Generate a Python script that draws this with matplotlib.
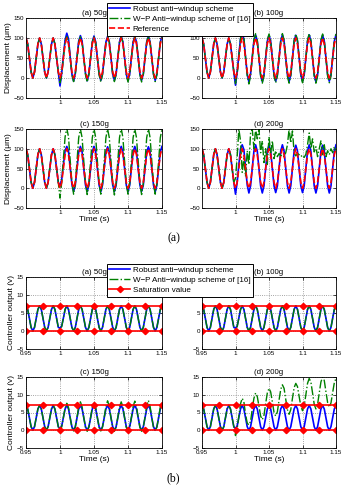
import numpy as np
import matplotlib
matplotlib.use("Agg")
import matplotlib.pyplot as plt

plt.rcParams['font.family'] = ['Liberation Sans', 'DejaVu Sans']

# time samples (s), 0.0025 s step
t = np.linspace(0.95, 1.15, 81)

# ---------- displacement (um) ----------
disp_head = [100, 85, 50, 15, 0, 15, 50, 85, 100, 85, 50, 15, 0, 15, 50, 85, 100, 85, 50, 15]

ref_tail = [0, 15, 50, 85,
            100, 85, 50, 15, 0, 15, 50, 85,
            100, 85, 50, 15, 0, 15, 50, 85,
            100, 85, 50, 15, 0, 15, 50, 85,
            100, 85, 50, 15, 0, 15, 50, 85,
            100, 85, 50, 15, 0, 15, 50, 85,
            100, 85, 50, 15, 0, 15, 50, 85,
            100, 85, 50, 15, 0, 15, 50, 85,
            100]

robust_a = [-20, 12, 55, 95,
            112, 98, 52, 10, -8, 12, 52, 92,
            106, 92, 50, 12, -7, 11, 50, 90,
            105, 90, 50, 10, -6, 10, 50, 90,
            104, 90, 50, 10, -6, 10, 50, 90,
            105, 90, 50, 10, -7, 10, 50, 90,
            104, 90, 50, 10, -6, 10, 50, 90,
            105, 90, 50, 10, -6, 10, 50, 90,
            104]
wp_a = [-12, 6, 50, 92,
        104, 92, 50, 8, -9, 9, 50, 90,
        103, 90, 50, 8, -10, 8, 50, 90,
        103, 89, 50, 8, -10, 8, 50, 89,
        104, 90, 50, 8, -9, 8, 50, 90,
        103, 89, 50, 8, -10, 8, 50, 89,
        103, 90, 50, 8, -10, 8, 50, 90,
        104, 89, 50, 8, -9, 8, 50, 89,
        103]
robust_b = [-18, 15, 58, 98,
            110, 98, 52, 10, -10, 10, 52, 94,
            108, 92, 50, 8, -9, 8, 50, 92,
            107, 92, 50, 8, -8, 8, 50, 92,
            108, 92, 50, 8, -9, 8, 50, 92,
            107, 92, 50, 8, -8, 8, 50, 92,
            108, 92, 50, 8, -9, 8, 50, 92,
            107, 92, 50, 8, -8, 8, 50, 92,
            108]
wp_b = [-14, 10, 55, 100,
        112, 100, 52, 5, -15, 5, 50, 96,
        111, 95, 50, 4, -13, 5, 50, 95,
        110, 95, 50, 5, -12, 5, 50, 95,
        111, 95, 50, 4, -13, 5, 50, 95,
        110, 95, 50, 5, -12, 5, 50, 95,
        111, 95, 50, 4, -13, 5, 50, 95,
        110, 95, 50, 5, -12, 5, 50, 95,
        110]
robust_c = [5, 22, 60, 95,
            106, 94, 52, 10, -8, 8, 50, 92,
            106, 92, 50, 8, -8, 8, 50, 92,
            106, 92, 50, 8, -9, 8, 50, 92,
            105, 92, 50, 8, -8, 8, 50, 92,
            106, 92, 50, 8, -9, 8, 50, 92,
            106, 92, 50, 8, -8, 8, 50, 92,
            105, 92, 50, 8, -9, 8, 50, 92,
            106]
wp_c = [-25, 15, 75, 130,
        152, 130, 70, 15, -15, 12, 68, 128,
        150, 128, 68, 12, -16, 12, 68, 128,
        151, 128, 68, 12, -15, 12, 68, 128,
        150, 128, 68, 12, -17, 12, 68, 128,
        152, 128, 68, 12, -15, 12, 68, 128,
        150, 128, 68, 12, -16, 12, 68, 128,
        151, 128, 68, 12, -15, 12, 68, 128,
        150]
robust_d = [-15, 15, 60, 100,
            110, 98, 52, 8, -12, 6, 50, 94,
            110, 94, 50, 6, -12, 6, 50, 94,
            109, 94, 50, 6, -11, 6, 50, 94,
            110, 94, 50, 6, -12, 6, 50, 94,
            109, 94, 50, 6, -11, 6, 50, 94,
            110, 94, 50, 6, -12, 6, 50, 94,
            109, 94, 50, 6, -12, 6, 50, 94,
            110]
wp_d = [25, 80, 150, 120,
        40, 75, 30, 95, 60, 140, 150, 100,
        150, 125, 150, 90, 120, 65, 100, 60,
        130, 90, 120, 75, 95, 80, 88, 82,
        85, 80, 90, 110, 150, 115, 145, 90,
        82, 88, 85, 80, 84, 78, 86, 110,
        140, 100, 125, 92, 105, 80, 100, 120,
        85, 110, 80, 95, 85, 100, 90, 105,
        95]

# ---------- controller output (v) ----------
u_head = [7, 6, 3.5, 1, 0, 1, 3.5, 6, 7, 6, 3.5, 1, 0, 1, 3.5, 6, 7, 6, 3.5, 1]

u_robust_ab = [0.8, 1.4, 3.6, 6,
               7, 6, 3.5, 1, 0, 1, 3.5, 6,
               7, 6, 3.5, 1, 0, 1, 3.5, 6,
               7, 6, 3.5, 1, 0, 1, 3.5, 6,
               7, 6, 3.5, 1, 0, 1, 3.5, 6,
               7, 6, 3.5, 1, 0, 1, 3.5, 6,
               7, 6, 3.5, 1, 0, 1, 3.5, 6,
               7, 6, 3.5, 1, 0, 1, 3.5, 6,
               7]
u_wp_ab = [0.4, 1.2, 3.6, 6,
           7, 6, 3.5, 1, 0, 1, 3.5, 6,
           7, 6, 3.5, 1, 0, 1, 3.5, 6,
           7, 6, 3.5, 1, 0, 1, 3.5, 6,
           7, 6, 3.5, 1, 0, 1, 3.5, 6,
           7, 6, 3.5, 1, 0, 1, 3.5, 6,
           7, 6, 3.5, 1, 0, 1, 3.5, 6,
           7, 6, 3.5, 1, 0, 1, 3.5, 6,
           7]
u_robust_cd = [0.5, 1.2, 3.6, 6,
               7, 6, 3.5, 1, 0, 1, 3.5, 6,
               7, 6, 3.5, 1, 0, 1, 3.5, 6,
               7, 6, 3.5, 1, 0, 1, 3.5, 6,
               7, 6, 3.5, 1, 0, 1, 3.5, 6,
               7, 6, 3.5, 1, 0, 1, 3.5, 6,
               7, 6, 3.5, 1, 0, 1, 3.5, 6,
               7, 6, 3.5, 1, 0, 1, 3.5, 6,
               7]
u_wp_c = [-0.8, 1.0, 3.6, 6.3,
          7.6, 6.4, 3.5, 0.8, -0.2, 0.9, 3.6, 6.6,
          8.0, 6.6, 3.5, 0.8, -0.3, 0.9, 3.6, 6.5,
          7.6, 6.4, 3.5, 0.8, -0.2, 0.9, 3.6, 6.7,
          8.3, 6.7, 3.5, 0.8, -0.3, 0.9, 3.6, 6.6,
          8.0, 6.6, 3.5, 0.8, -0.2, 0.9, 3.6, 6.7,
          8.2, 6.7, 3.5, 0.8, -0.3, 0.9, 3.6, 6.7,
          8.4, 6.7, 3.5, 0.8, -0.2, 0.9, 3.6, 6.5,
          7.8]
u_wp_d = [-1.5, 0.5, 4.0, 7.5,
          9.0, 8.0, 4.5, 2.0, 1.5, 2.5, 6.0, 9.0,
          10.5, 9.5, 6.8, 4.0, 3.0, 4.2, 7.5, 10.5,
          11.8, 10.8, 8.0, 5.0, 4.0, 5.2, 8.5, 11.5,
          12.8, 11.8, 8.7, 5.8, 4.5, 5.8, 9.0, 12.0,
          13.2, 12.3, 9.5, 6.8, 5.5, 6.8, 10.0, 13.2,
          14.6, 13.6, 10.5, 7.3, 6.0, 7.3, 10.5, 13.6,
          15.0, 14.0, 10.8, 7.8, 6.5, 7.7, 10.6, 13.4,
          14.6]

sat_t = [0.95, 0.975, 1.0, 1.025, 1.05, 1.075, 1.1, 1.125, 1.15]
sat_hi = [7, 7, 7, 7, 7, 7, 7, 7, 7]
sat_lo = [0, 0, 0, 0, 0, 0, 0, 0, 0]

titles = ['(a) 50g', '(b) 100g', '(c) 150g', '(d) 200g']
disp_robust = [robust_a, robust_b, robust_c, robust_d]
disp_wp = [wp_a, wp_b, wp_c, wp_d]
u_robust = [u_robust_ab, u_robust_ab, u_robust_cd, u_robust_cd]
u_wp = [u_wp_ab, u_wp_ab, u_wp_c, u_wp_d]

W, H = 347, 492
fig = plt.figure(figsize=(W / 100, H / 100), dpi=100)

def px_axes(l, t_, r, b):
    return fig.add_axes([l / W, 1 - b / H, (r - l) / W, (b - t_) / H])

cols = [(26, 162), (202, 336)]
rows_top = [(18, 98), (129, 208)]
rows_bot = [(277, 349), (377, 448)]

BLUE = '#0000ff'
GREEN = '#008000'
RED = '#ff0000'

def style(ax, yticks, ylim):
    ax.set_xlim(0.95, 1.15)
    ax.set_ylim(*ylim)
    ax.set_yticks(yticks)
    ax.grid(True, linestyle=':', color='#888888', linewidth=0.6)
    ax.tick_params(direction='in', length=2, width=0.5, labelsize=4.5, pad=1.5,
                   top=True, right=True)
    for s in ax.spines.values():
        s.set_linewidth(0.6)
    ax.set_axisbelow(True)

def hide_ylabels(ax, values):
    # labels that sit behind the legend box in the original
    for tk, v in zip(ax.yaxis.get_major_ticks(), ax.get_yticks()):
        if v in values:
            tk.label1.set_visible(False)

handles_top = None
for i in range(4):
    r, c = divmod(i, 2)
    ax = px_axes(cols[c][0], rows_top[r][0], cols[c][1], rows_top[r][1])
    h1, = ax.plot(t, disp_head + disp_robust[i], color=BLUE, lw=1.2)
    h2, = ax.plot(t, disp_head + disp_wp[i], color=GREEN, lw=1.0, ls='-.')
    h3, = ax.plot(t, disp_head + ref_tail, color=RED, lw=1.2, ls='--')
    style(ax, [-50, 0, 50, 100, 150], (-50, 150))
    ax.set_xticks([1, 1.05, 1.1, 1.15])
    ax.set_xticklabels(['1', '1.05', '1.1', '1.15'])
    ax.set_title(titles[i], fontsize=5.7, pad=2)
    if c == 0:
        ax.set_ylabel('Displacement (\u03bcm)', fontsize=6, labelpad=1)
    if r == 1:
        ax.set_xlabel('Time (s)', fontsize=6, labelpad=1)
    if i == 0:
        handles_top = [h1, h2, h3]
    if i == 1:
        hide_ylabels(ax, [150])

handles_bot = None
for i in range(4):
    r, c = divmod(i, 2)
    ax = px_axes(cols[c][0], rows_bot[r][0], cols[c][1], rows_bot[r][1])
    h1, = ax.plot(t, u_head + u_robust[i], color=BLUE, lw=1.2)
    h2, = ax.plot(t, u_head + u_wp[i], color=GREEN, lw=1.0, ls='-.')
    h3, = ax.plot(sat_t, sat_hi, color=RED, lw=1.2, marker='D', ms=3.2)
    ax.plot(sat_t, sat_lo, color=RED, lw=1.2, marker='D', ms=3.2)
    style(ax, [-5, 0, 5, 10, 15], (-5, 15))
    ax.set_xticks([0.95, 1, 1.05, 1.1, 1.15])
    ax.set_xticklabels(['0.95', '1', '1.05', '1.1', '1.15'])
    ax.set_title(titles[i], fontsize=5.7, pad=2)
    if c == 0:
        ax.set_ylabel('Controller output (v)', fontsize=6, labelpad=1)
    if r == 1:
        ax.set_xlabel('Time (s)', fontsize=6, labelpad=1)
    if i == 0:
        handles_bot = [h1, h2, h3]
    if i == 1:
        hide_ylabels(ax, [10, 15])

leg_kw = dict(loc='upper left', fontsize=5.8, frameon=True, fancybox=False,
              edgecolor='black', framealpha=1, handlelength=2.6,
              handletextpad=0.3, labelspacing=0.3, borderpad=0.3,
              borderaxespad=0)
leg1 = fig.legend(handles_top,
                  ['Robust anti\u2212windup scheme', 'W\u2212P Anti\u2212windup scheme of [16]', 'Reference'],
                  bbox_to_anchor=(107 / W, 1 - 3 / H), **leg_kw)
leg1.get_frame().set_linewidth(0.7)
leg2 = fig.legend(handles_bot,
                  ['Robust anti\u2212windup scheme', 'W\u2212P Anti\u2212windup scheme of [16]', 'Saturation value'],
                  bbox_to_anchor=(107 / W, 1 - 264 / H), **leg_kw)
leg2.get_frame().set_linewidth(0.7)

fig.text(173.5 / W, 1 - 238 / H, '(a)', ha='center', va='center',
         fontsize=8.5, family=['Liberation Serif', 'DejaVu Serif'])
fig.text(173.5 / W, 1 - 478 / H, '(b)', ha='center', va='center',
         fontsize=8.5, family=['Liberation Serif', 'DejaVu Serif'])

fig.savefig('out.png', dpi=100)
